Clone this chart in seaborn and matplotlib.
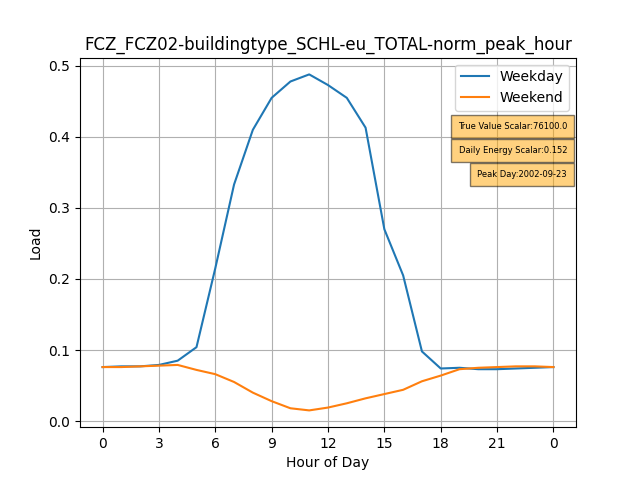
import matplotlib
matplotlib.use("Agg")
import matplotlib.pyplot as plt
import seaborn as sns
import pandas as pd

hours = list(range(25))
tick_pos = [0, 3, 6, 9, 12, 15, 18, 21, 24]
tick_labels = ["0", "3", "6", "9", "12", "15", "18", "21", "0"]
weekday = [0.076, 0.077, 0.077, 0.079, 0.085, 0.104, 0.215, 0.333, 0.41, 0.455,
           0.478, 0.488, 0.473, 0.455, 0.413, 0.27, 0.205, 0.098, 0.074, 0.075,
           0.073, 0.073, 0.074, 0.075, 0.076]
weekend = [0.076, 0.076, 0.077, 0.078, 0.079, 0.072, 0.066, 0.055, 0.040, 0.028,
           0.018, 0.015, 0.019, 0.025, 0.032, 0.038, 0.044, 0.056, 0.064, 0.073,
           0.075, 0.076, 0.077, 0.077, 0.076]
notes = ["True Value Scalar:76100.0", "Daily Energy Scalar:0.152", "Peak Day:2002-09-23"]

df = pd.DataFrame({"hour": hours * 2, "load": weekday + weekend,
                   "day": ["Weekday"] * 25 + ["Weekend"] * 25})

fig, ax = plt.subplots(figsize=(6.4, 4.8), dpi=100)
sns.lineplot(data=df, x="hour", y="load", hue="day",
             palette=["#1f77b4", "#ff7f0e"], ax=ax)
ax.set_xticks(tick_pos)
ax.set_xticklabels(tick_labels)
ax.grid(True)
ax.set_xlabel("Hour of Day")
ax.set_ylabel("Load")
ax.set_title("FCZ_FCZ02-buildingtype_SCHL-eu_TOTAL-norm_peak_hour")
ax.legend(title=None, loc="upper right", fontsize=10)

for i, t in enumerate(notes):
    ax.text(0.982, 0.814 - i * 0.065, t, transform=ax.transAxes, ha="right",
            va="center", fontsize=6,
            bbox=dict(boxstyle="square,pad=0.85", facecolor="orange", alpha=0.5))

plt.savefig("out.png")
